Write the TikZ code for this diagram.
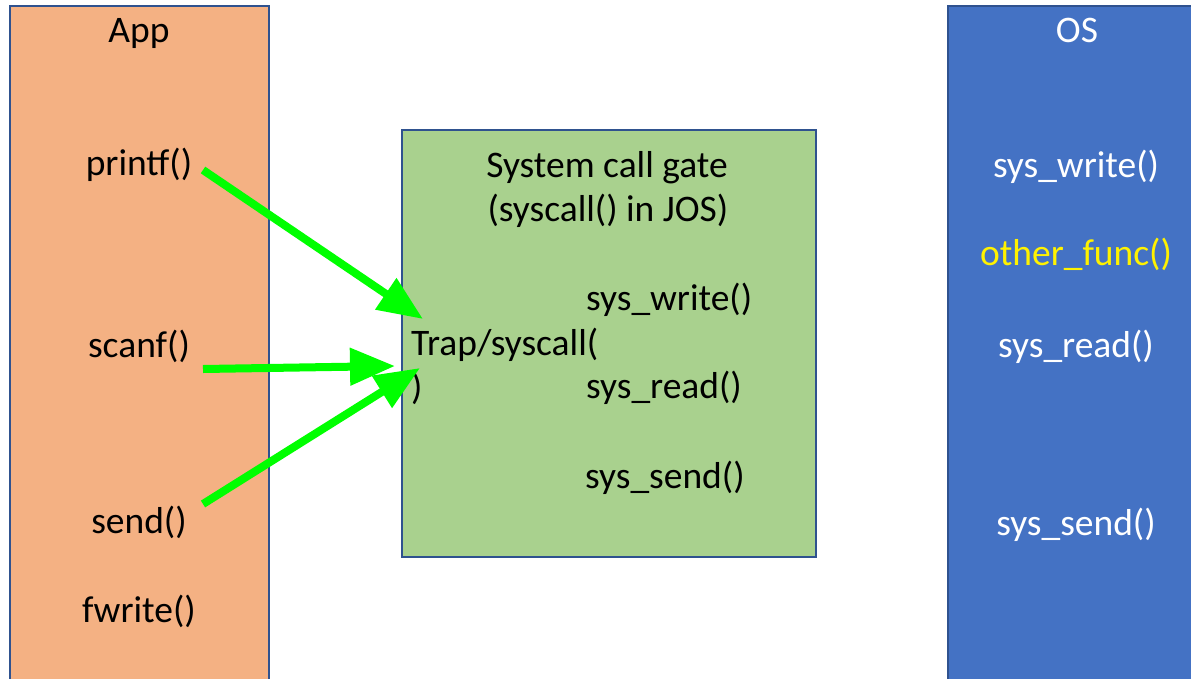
\documentclass[tikz,border=0pt]{standalone}
\usepackage{fontspec}
\setmainfont{Carlito}
\usetikzlibrary{arrows.meta}
\definecolor{appfill}{HTML}{F4B183}
\definecolor{osfill}{HTML}{4472C4}
\definecolor{gatefill}{HTML}{A9D18E}
\definecolor{edgeblue}{HTML}{2F528F}
\definecolor{callgreen}{HTML}{00FF00}

\begin{document}
\begin{tikzpicture}[
    x=1pt, y=-1pt,
    panel/.style={draw=edgeblue, line width=2pt, inner sep=0pt, anchor=north west},
    lbl/.style={font=\fontsize{37.5}{44}\selectfont, inner sep=0pt, anchor=base},
    oslbl/.style={lbl, text=white},
    call/.style={draw=callgreen, line width=8pt, -{Triangle[length=45pt, width=36pt]}}
]
\useasboundingbox (0,0) rectangle (1191,678);

% the three boxes
\node[panel, fill=appfill, minimum width=259pt, minimum height=700pt] (app) at (9,5) {};
\node[panel, fill=osfill, minimum width=270pt, minimum height=700pt] (os) at (947,5) {};
\node[panel, fill=gatefill, minimum width=414pt, minimum height=427pt] (gate) at (401,129) {};

% application side
\node[lbl] (apptitle) at (139,42) {App};
\node[lbl] (printf) at (139,175) {printf()};
\node[lbl] (scanf) at (139,357) {scanf()};
\node[lbl] (send) at (139,533) {send()};
\node[lbl] (fwrite) at (139,622) {fwrite()};

% system call gate
\node[lbl] (gatetitle) at (607,177) {System call gate};
\node[lbl] (gatesub) at (608,221) {(syscall() in JOS)};
\node[lbl, anchor=base west, align=left] (trap) at (411,399) {Trap/syscall(\\)};
\node[lbl, anchor=base west] (gwrite) at (586,310) {sys\_write()};
\node[lbl, anchor=base west] (gread) at (586,398) {sys\_read()};
\node[lbl, anchor=base west] (gsend) at (585,488) {sys\_send()};

% OS side
\node[oslbl] (ostitle) at (1077,42) {OS};
\node[oslbl] (oswrite) at (1076,177) {sys\_write()};
\node[oslbl, text=yellow] (osother) at (1076,265) {other\_func()};
\node[oslbl] (osread) at (1076,357) {sys\_read()};
\node[oslbl] (ossend) at (1076,535) {sys\_send()};

% calls into the gate
\coordinate (fromprintf) at (203,170);
\coordinate (fromscanf) at (203,369);
\coordinate (fromsend) at (203,504);
\coordinate (tipa) at (423,319);
\coordinate (tipb) at (395,366);
\coordinate (tipc) at (420,368);
\draw[call] (fromprintf) -- (tipa);
\draw[call] (fromscanf) -- (tipb);
\draw[call] (fromsend) -- (tipc);
\end{tikzpicture}
\end{document}
